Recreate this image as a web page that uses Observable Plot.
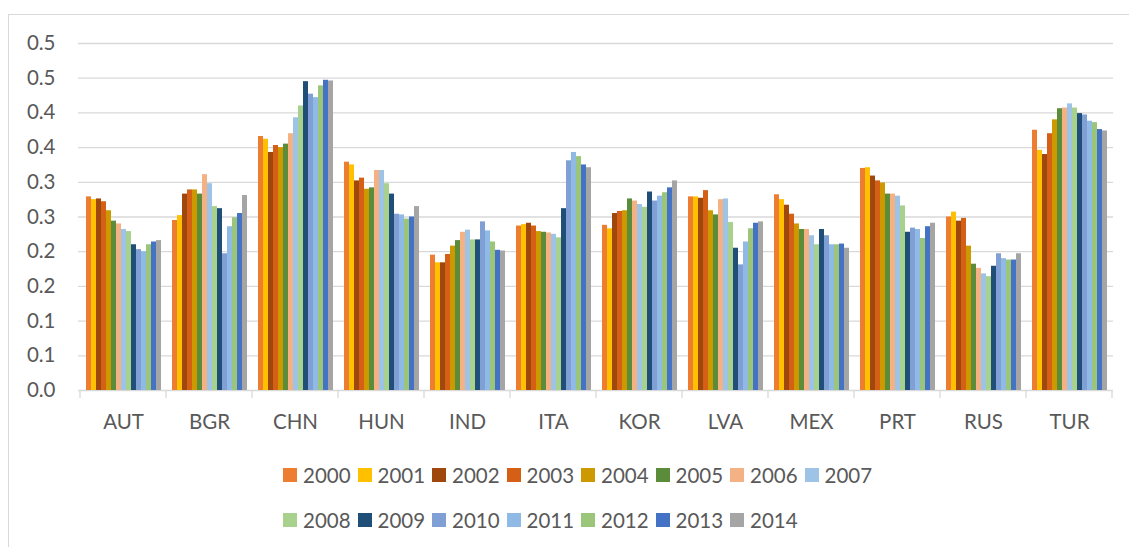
<!DOCTYPE html>
<html>
<head>
<meta charset="utf-8">
<script src="https://cdn.jsdelivr.net/npm/d3@7"></script>
<script src="https://cdn.jsdelivr.net/npm/@observablehq/plot@0.6"></script>
<style>
  html, body { margin: 0; padding: 0; background: #fff; }
  #wrap { position: relative; width: 1129px; height: 547px; overflow: hidden; font-family: Lato, "Open Sans", sans-serif; }
  #frame { position: absolute; left: 8px; top: 14px; right: -5px; bottom: -5px; border-left: 1.5px solid #d9d9d9; border-top: 1.5px solid #d9d9d9; }
  .layer { position: absolute; left: 0; top: 0; }
  #legend { position: absolute; left: 283px; top: 452px; width: 600px; display: flex; flex-wrap: wrap; }
  .item { width: 74.5px; height: 45px; display: flex; align-items: center; font-size: 20.5px; color: #595959; }
  .sw { width: 14px; height: 14px; margin-right: 6px; flex: none; }
</style>
</head>
<body>
<div id="wrap">
  <div id="frame"></div>
  <div id="grid" class="layer"></div>
  <div id="chart" class="layer"></div>
  <div id="legend"></div>
</div>
<script>
const countries = ["AUT","BGR","CHN","HUN","IND","ITA","KOR","LVA","MEX","PRT","RUS","TUR"];
const years = ["2000","2001","2002","2003","2004","2005","2006","2007","2008","2009","2010","2011","2012","2013","2014"];
const colors = ["#ED7D31","#FFC000","#9E480E","#D56015","#CC9900","#5B8C3A","#F4B183","#9DC3E6","#A9D18E","#1F4E79","#7F9FD5","#8EBAE5","#9BC67A","#4472C4","#A5A5A5"];

const AUT = [0.279,0.275,0.276,0.272,0.259,0.244,0.240,0.232,0.229,0.210,0.203,0.200,0.210,0.214,0.216];
const BGR = [0.245,0.252,0.283,0.289,0.289,0.283,0.311,0.298,0.265,0.262,0.197,0.236,0.249,0.255,0.281];
const CHN = [0.366,0.362,0.343,0.353,0.350,0.355,0.370,0.393,0.410,0.445,0.427,0.422,0.439,0.447,0.446];
const HUN = [0.329,0.325,0.302,0.306,0.290,0.292,0.317,0.317,0.298,0.283,0.254,0.253,0.247,0.250,0.265];
const IND = [0.195,0.184,0.184,0.196,0.208,0.216,0.228,0.231,0.217,0.217,0.243,0.230,0.214,0.202,0.201];
const ITA = [0.237,0.239,0.241,0.237,0.229,0.228,0.227,0.225,0.220,0.262,0.331,0.343,0.337,0.325,0.321];
const KOR = [0.238,0.233,0.255,0.258,0.259,0.276,0.273,0.268,0.264,0.286,0.273,0.280,0.285,0.292,0.302];
const LVA = [0.279,0.279,0.277,0.288,0.259,0.253,0.275,0.276,0.242,0.205,0.181,0.214,0.233,0.241,0.243];
const MEX = [0.282,0.275,0.267,0.254,0.240,0.232,0.232,0.223,0.210,0.232,0.223,0.210,0.210,0.211,0.205];
const PRT = [0.320,0.321,0.309,0.302,0.299,0.283,0.283,0.280,0.266,0.228,0.234,0.232,0.219,0.236,0.241];
const RUS = [0.250,0.257,0.244,0.248,0.208,0.182,0.176,0.168,0.164,0.179,0.197,0.190,0.188,0.188,0.197];
const TUR = [0.375,0.346,0.340,0.370,0.390,0.406,0.407,0.413,0.407,0.399,0.397,0.388,0.386,0.376,0.374];

const yTickValues = [0,0.05,0.1,0.15,0.2,0.25,0.3,0.35,0.4,0.45,0.5];
const yTickLabels = ["0.0","0.1","0.1","0.2","0.2","0.3","0.3","0.4","0.4","0.5","0.5"];

const series = {AUT,BGR,CHN,HUN,IND,ITA,KOR,LVA,MEX,PRT,RUS,TUR};
const data = [];
countries.forEach(c => series[c].forEach((v, j) => data.push({country: c, year: years[j], value: v})));

const common = {
  width: 1129,
  height: 440,
  marginLeft: 78,
  marginRight: 16,
  marginTop: 43,
  marginBottom: 50,
  style: {fontFamily: "Lato, 'Open Sans', sans-serif", fontSize: "20.5px", color: "#595959", background: "transparent"}
};

// underlay: y axis and continuous gridlines
const grid = Plot.plot({
  ...common,
  y: {domain: [0, 0.5], ticks: yTickValues, tickFormat: (d, i) => yTickLabels[i], tickSize: 0, tickPadding: 23, label: null},
  marks: [
    Plot.ruleY(yTickValues, {stroke: "#d9d9d9", strokeWidth: 1.3})
  ]
});
document.getElementById("grid").appendChild(grid);

// bars, faceted by country
const chart = Plot.plot({
  ...common,
  fx: {domain: countries, paddingInner: 0.096, paddingOuter: 0.048, label: null, tickSize: 0, tickPadding: 24},
  x: {domain: years, padding: 0, axis: null},
  y: {domain: [0, 0.5], axis: null},
  color: {domain: years, range: colors},
  marks: [
    Plot.barY(data, {fx: "country", x: "year", y: "value", fill: "year"})
  ]
});
document.getElementById("chart").appendChild(chart);

// category boundary ticks on the x axis, from the fx band scale
const fx = chart.scale("fx");
const ys = chart.scale("y");
const gap = fx.step - fx.bandwidth;
const edges = countries.map(c => fx.apply(c) - gap / 2);
edges.push(fx.apply(countries[countries.length - 1]) + fx.bandwidth + gap / 2);
const y0 = ys.apply(0);
d3.select(chart).append("g").selectAll("line").data(edges).join("line")
  .attr("x1", d => d).attr("x2", d => d)
  .attr("y1", y0).attr("y2", y0 + 8)
  .attr("stroke", "#d9d9d9").attr("stroke-width", 1.3);

// legend
const legend = d3.select("#legend");
years.forEach((yr, i) => {
  const it = legend.append("div").attr("class", "item");
  it.append("div").attr("class", "sw").style("background", colors[i]);
  it.append("span").text(yr);
});
</script>
</body>
</html>
